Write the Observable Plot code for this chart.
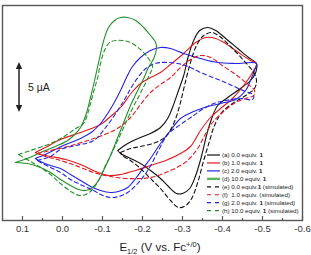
<!DOCTYPE html>
<html>
<head>
<meta charset="utf-8">
<script src="https://cdn.jsdelivr.net/npm/d3@7"></script>
<script src="https://cdn.jsdelivr.net/npm/@observablehq/plot@0.6"></script>
<style>
  html, body { margin: 0; padding: 0; background: #fff; }
  #chart svg { display: block; }
</style>
</head>
<body>
<div id="chart"></div>
<script>
// Cyclic voltammograms: [E1/2 (V vs. Fc+/0), current (µA)] along each sweep.
const cvA = [[-0.138,-2.0],[-0.163,-1.3],[-0.195,-0.7],[-0.22,-0.3],[-0.245,0.3],[-0.263,1.2],[-0.275,2.3],[-0.29,4.0],[-0.303,5.5],[-0.315,7.5],[-0.328,9.0],[-0.343,10.0],[-0.363,10.3],[-0.383,10.0],[-0.408,9.2],[-0.438,8.2],[-0.465,7.3],[-0.485,6.7],
  [-0.483,5.8],[-0.47,5.0],[-0.445,4.2],[-0.413,3.3],[-0.388,2.5],[-0.373,1.2],[-0.36,-0.5],[-0.348,-2.5],[-0.333,-4.5],[-0.318,-5.8],[-0.30,-6.3],[-0.285,-6.3],[-0.265,-5.6],[-0.245,-4.8],[-0.22,-4.0],[-0.195,-3.3],[-0.165,-2.7],[-0.145,-2.3],[-0.138,-2.0]];
const cvB = [[0.068,-2.2],[0.043,-1.7],[0.005,-0.9],[-0.045,-0.2],[-0.095,0.6],[-0.12,1.4],[-0.145,2.3],[-0.175,3.9],[-0.195,4.7],[-0.22,5.3],[-0.245,5.8],[-0.27,6.6],[-0.303,7.7],[-0.333,8.8],[-0.358,9.3],[-0.383,9.2],[-0.408,8.7],[-0.44,7.8],[-0.47,7.0],[-0.485,6.7],
  [-0.475,5.8],[-0.453,4.5],[-0.425,3.2],[-0.395,2.2],[-0.37,1.3],[-0.345,0.0],[-0.32,-1.6],[-0.295,-2.3],[-0.258,-3.0],[-0.22,-3.5],[-0.183,-4.0],[-0.145,-4.4],[-0.115,-4.5],[-0.083,-4.1],[-0.045,-3.4],[-0.008,-2.9],[0.03,-2.6],[0.055,-2.4],[0.068,-2.2]];
const cvC = [[0.068,-2.8],[0.043,-2.4],[0.018,-1.9],[-0.008,-1.4],[-0.045,-0.8],[-0.075,-0.1],[-0.095,0.7],[-0.113,1.7],[-0.128,2.7],[-0.145,4.0],[-0.16,5.3],[-0.175,6.4],[-0.195,7.3],[-0.22,8.0],[-0.245,8.3],[-0.27,8.2],[-0.303,7.7],[-0.345,7.2],[-0.388,6.8],[-0.433,6.7],[-0.485,6.7],
  [-0.48,6.0],[-0.47,5.0],[-0.458,4.0],[-0.433,3.1],[-0.395,2.7],[-0.363,2.4],[-0.328,1.9],[-0.295,1.2],[-0.27,0.0],[-0.245,-1.3],[-0.22,-2.8],[-0.203,-3.7],[-0.183,-4.8],[-0.163,-5.7],[-0.14,-6.1],[-0.12,-6.2],[-0.095,-6.0],[-0.07,-5.6],[-0.045,-5.0],[-0.02,-4.4],[0.005,-3.8],[0.03,-3.5],[0.055,-3.1],[0.068,-2.8]];
const cvD = [[0.118,-3.2],[0.088,-2.8],[0.055,-2.2],[0.018,-1.6],[-0.013,-1.0],[-0.033,-0.3],[-0.045,0.3],[-0.058,1.5],[-0.07,3.3],[-0.083,5.5],[-0.093,7.3],[-0.103,9.0],[-0.115,10.3],[-0.13,11.0],[-0.145,11.3],[-0.163,11.3],[-0.183,11.0],[-0.203,10.3],[-0.22,9.5],[-0.233,8.8],[-0.235,8.2],
  [-0.228,7.2],[-0.215,6.3],[-0.203,5.2],[-0.188,4.0],[-0.17,2.5],[-0.153,0.8],[-0.135,-1.0],[-0.12,-2.5],[-0.105,-3.8],[-0.09,-5.0],[-0.075,-5.7],[-0.058,-6.0],[-0.04,-5.9],[-0.02,-5.5],[0.005,-4.9],[0.03,-4.2],[0.055,-3.7],[0.088,-3.3],[0.118,-3.2]];
const simE = [[-0.145,-2.2],[-0.17,-1.8],[-0.195,-1.6],[-0.233,-1.2],[-0.258,-0.6],[-0.278,0.7],[-0.293,2.5],[-0.305,4.5],[-0.32,6.8],[-0.335,8.5],[-0.353,9.5],[-0.373,9.8],[-0.393,9.4],[-0.42,8.4],[-0.453,7.0],[-0.478,5.8],[-0.485,5.0],
  [-0.48,4.2],[-0.458,3.5],[-0.425,2.7],[-0.398,1.8],[-0.38,0.5],[-0.368,-1.0],[-0.353,-3.0],[-0.338,-5.2],[-0.323,-6.8],[-0.308,-7.5],[-0.29,-7.7],[-0.27,-7.0],[-0.245,-5.8],[-0.22,-4.8],[-0.195,-3.8],[-0.17,-3.0],[-0.15,-2.5],[-0.145,-2.2]];
const simF = [[0.063,-2.3],[0.03,-2.0],[-0.013,-1.6],[-0.078,-0.8],[-0.133,0.1],[-0.17,1.3],[-0.195,2.6],[-0.22,3.8],[-0.245,4.6],[-0.27,5.3],[-0.295,6.3],[-0.32,7.1],[-0.345,7.5],[-0.37,7.3],[-0.403,6.4],[-0.433,5.6],[-0.458,4.8],[-0.48,4.0],
  [-0.478,3.5],[-0.458,3.2],[-0.433,2.8],[-0.40,1.8],[-0.375,0.8],[-0.358,-0.3],[-0.338,-1.8],[-0.32,-2.7],[-0.303,-3.3],[-0.27,-4.0],[-0.22,-4.7],[-0.163,-4.8],[-0.12,-4.6],[-0.078,-4.2],[-0.033,-3.5],[0.005,-3.0],[0.043,-2.6],[0.063,-2.3]];
const simG = [[0.063,-3.0],[0.03,-2.6],[0.005,-1.9],[-0.033,-1.5],[-0.078,-1.0],[-0.108,0.3],[-0.138,2.0],[-0.158,3.3],[-0.175,4.5],[-0.203,6.0],[-0.225,6.6],[-0.245,6.8],[-0.288,6.7],[-0.32,6.3],[-0.345,5.8],[-0.383,5.2],[-0.413,4.7],[-0.445,4.1],[-0.478,3.5],
  [-0.475,3.1],[-0.445,3.2],[-0.408,3.0],[-0.378,2.7],[-0.345,2.0],[-0.328,1.5],[-0.295,0.6],[-0.263,-0.4],[-0.24,-2.0],[-0.213,-4.0],[-0.188,-5.3],[-0.163,-6.2],[-0.14,-6.6],[-0.12,-6.7],[-0.095,-6.4],[-0.078,-6.0],[-0.045,-5.4],[-0.02,-4.9],[0.005,-4.2],[0.03,-3.7],[0.055,-3.2],[0.063,-3.0]];
const simH = [[0.11,-2.4],[0.08,-2.0],[0.03,-1.3],[-0.008,-0.5],[-0.033,0.2],[-0.053,0.7],[-0.063,1.7],[-0.07,2.7],[-0.08,4.2],[-0.088,5.3],[-0.095,6.7],[-0.105,8.0],[-0.118,8.8],[-0.133,9.0],[-0.15,9.0],[-0.17,8.8],[-0.195,8.1],[-0.213,7.3],[-0.225,6.4],
  [-0.22,5.8],[-0.208,4.8],[-0.193,3.6],[-0.175,2.2],[-0.155,0.5],[-0.138,-1.0],[-0.12,-2.5],[-0.105,-3.7],[-0.09,-5.0],[-0.075,-5.9],[-0.058,-6.4],[-0.043,-6.5],[-0.025,-6.2],[0.005,-5.3],[0.03,-4.4],[0.055,-3.7],[0.08,-3.1],[0.11,-2.4]];

// Series styling and legend text (bold part is the compound number)
const seriesCurves = [cvA, cvB, cvC, cvD, simE, simF, simG, simH];
const seriesColors = ["#111111", "#e3191c", "#2424e0", "#23912a", "#111111", "#e3191c", "#2424e0", "#23912a"];
const seriesDashed = [false, false, false, false, true, true, true, true];
const legendLabels = [
  ["(a) 0.0 equiv. ", "1", ""],
  ["(b) 1.0 equiv. ", "1", ""],
  ["(c) 2.0 equiv. ", "1", ""],
  ["(d) 10.0 equiv. ", "1", ""],
  ["(e) 0.0 equiv.", "1", " (simulated)"],
  ["(f)  1.0 equiv. (simulated)", "", ""],
  ["(g) 2.0 equiv. ", "1", " (simulated)"],
  ["(h) 10.0 equiv. ", "1", " (simulated)"]
];

// Axis ticks and the current scale bar
const xMajorTicks = [0.1, 0.0, -0.1, -0.2, -0.3, -0.4, -0.5, -0.6];
const xMinorTicks = [0.05, -0.05, -0.15, -0.25, -0.35, -0.45, -0.55];
const xDomain = [0.15, -0.6];
const yDomain = [-9, 12.5];
const scaleBarE = 0.1075;
const scaleBarStart = 1.8;
const scaleBarLength = 5; // µA

const font = "'Liberation Sans', Arial, Helvetica, sans-serif";
const frameColor = "#555";

const marks = [];
seriesCurves.forEach((pts, i) => {
  marks.push(Plot.line(pts, {
    x: d => d[0], y: d => d[1],
    stroke: seriesColors[i],
    strokeWidth: 1.1,
    strokeDasharray: seriesDashed[i] ? "4,3" : null,
    curve: "catmull-rom"
  }));
});
marks.push(
  Plot.ruleX(xMajorTicks, {x: d => d, y1: yDomain[0], y2: yDomain[0] + 0.4, stroke: frameColor, strokeWidth: 1.2}),
  Plot.ruleX(xMinorTicks, {x: d => d, y1: yDomain[0], y2: yDomain[0] + 0.2, stroke: frameColor, strokeWidth: 1.2}),
  Plot.axisX({ticks: xMajorTicks, tickSize: 0, tickPadding: 5, tickFormat: d => d.toFixed(1), fontSize: 9.5, fill: "#333", label: null}),
  Plot.frame({stroke: frameColor, strokeWidth: 1.4})
);

const chart = Plot.plot({
  width: 311,
  height: 255,
  marginLeft: 2,
  marginRight: 9,
  marginTop: 5,
  marginBottom: 35,
  style: {fontFamily: font, background: "#fff", overflow: "visible"},
  x: {domain: xDomain},
  y: {domain: yDomain, axis: null},
  marks
});
document.getElementById("chart").append(chart);

const svg = d3.select(chart);
const xs = chart.scale("x"), ys = chart.scale("y");

// Scale bar with filled arrowheads, its length taken from the y scale
const bx = xs.apply(scaleBarE);
const yTop = ys.apply(scaleBarStart + scaleBarLength);
const yBot = ys.apply(scaleBarStart);
const head = 7, half = 3.2;
const bar = svg.append("g").attr("fill", "#222").attr("stroke", "#222");
bar.append("line").attr("x1", bx).attr("x2", bx).attr("y1", yTop + head - 1).attr("y2", yBot - head + 1).attr("stroke-width", 1.5);
bar.append("path").attr("stroke", "none").attr("d", `M${bx},${yTop}L${bx - half},${yTop + head}L${bx + half},${yTop + head}Z`);
bar.append("path").attr("stroke", "none").attr("d", `M${bx},${yBot}L${bx - half},${yBot - head}L${bx + half},${yBot - head}Z`);
svg.append("text")
  .attr("x", bx + 9).attr("y", (yTop + yBot) / 2 + 4)
  .attr("text-anchor", "start")
  .attr("font-family", font).attr("font-size", 10.5).attr("fill", "#222")
  .text("5 µA");

// Legend
const legend = svg.append("g").attr("font-family", font).attr("font-size", 6.2).attr("fill", "#222").attr("text-anchor", "start");
legendLabels.forEach((parts, i) => {
  const y = 155 + i * 7.95;
  legend.append("line")
    .attr("x1", 207).attr("x2", 220).attr("y1", y).attr("y2", y)
    .attr("stroke", i === 3 ? "#5cb85c" : seriesColors[i])
    .attr("stroke-width", i === 3 ? 2.4 : 1.2)
    .attr("stroke-dasharray", seriesDashed[i] ? "4,4" : null);
  const t = legend.append("text").attr("x", 222).attr("y", y).attr("dy", "0.35em").style("white-space", "pre");
  t.append("tspan").text(parts[0]);
  if (parts[1]) t.append("tspan").attr("font-weight", "bold").text(parts[1]);
  if (parts[2]) t.append("tspan").text(parts[2]);
});

// x-axis title with subscript and superscript
const title = svg.append("text")
  .attr("x", 160).attr("y", 251)
  .attr("text-anchor", "middle")
  .attr("font-family", font).attr("font-size", 11.5).attr("fill", "#222")
  .style("white-space", "pre");
title.append("tspan").text("E");
title.append("tspan").attr("font-size", 7.5).attr("dy", 3).text("1/2");
title.append("tspan").attr("dy", -3).text(" (V vs. Fc");
title.append("tspan").attr("font-size", 7.5).attr("dy", -4.5).text("+/0");
title.append("tspan").attr("dy", 4.5).text(")");
</script>
</body>
</html>
